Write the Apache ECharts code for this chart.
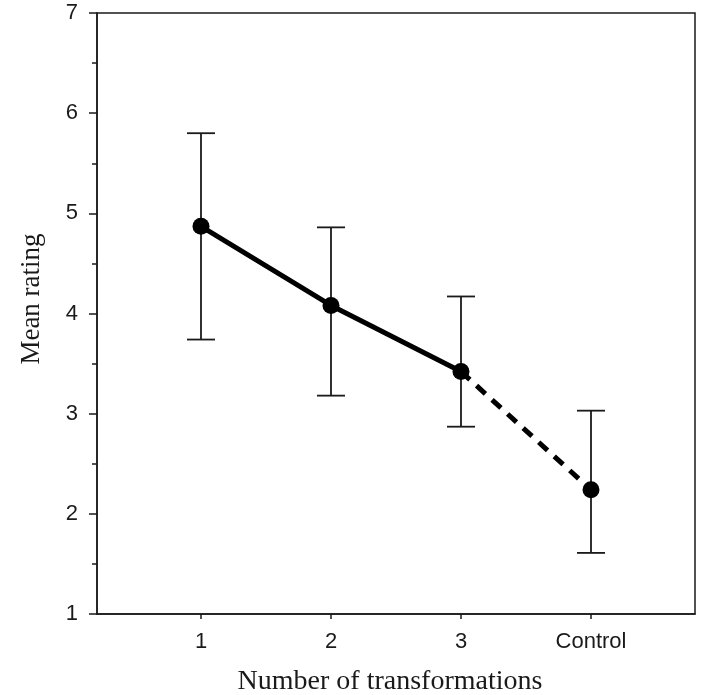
<!DOCTYPE html>
<html>
<head>
<meta charset="utf-8">
<script src="https://cdn.jsdelivr.net/npm/echarts@6/dist/echarts.min.js"></script>
<style>
  html, body { margin: 0; padding: 0; background: #fff; }
  #chart { width: 701px; height: 695px; }
</style>
</head>
<body>
<div id="chart"></div>
<script>
// categories on the x axis (placed at 1..4)
const categories = ['1', '2', '3', 'Control']
const positions = [1, 2, 3, 4]
// mean rating and error bar ends
const means = [4.87, 4.08, 3.42, 2.24]
const upper = [5.80, 4.86, 4.17, 3.03]
const lower = [3.74, 3.18, 2.87, 1.61]
const yTicks = [1, 2, 3, 4, 5, 6, 7]

const ink = '#1a1a1a'
const chart = echarts.init(document.getElementById('chart'))

// solid line over the transformation conditions, dashed to control
const solidData = positions.slice(0, 3).map((x, i) => [x, means[i]])
const dashedData = [[positions[2], means[2]], [positions[3], means[3]]]
const errData = positions.map((x, i) => [x, lower[i], upper[i]])

chart.setOption({
  animation: false,
  grid: {
    left: 97,
    top: 13,
    right: 6,
    bottom: 81,
    outerBoundsMode: 'none',
    show: true,
    borderColor: ink,
    borderWidth: 1.5,
    backgroundColor: 'transparent'
  },
  // y title sits a little above the plot centre, so place it by hand
  graphic: [{
    type: 'text',
    x: 32,
    y: 299,
    rotation: Math.PI / 2,
    style: {
      text: 'Mean rating',
      fontFamily: 'Liberation Serif',
      fontSize: 27,
      fill: ink,
      textAlign: 'center',
      textVerticalAlign: 'middle'
    }
  }],
  xAxis: {
    type: 'value',
    min: 0.2,
    max: 4.8,
    name: 'Number of transformations',
    nameLocation: 'middle',
    nameGap: 54,
    nameTextStyle: { fontFamily: 'Liberation Serif', fontSize: 28, color: ink, padding: [0, 12, 0, 0] },
    axisLine: { show: true, lineStyle: { color: ink, width: 1.5 } },
    axisTick: { show: true, length: 5, lineStyle: { color: ink, width: 1.5 }, customValues: positions },
    axisLabel: {
      color: ink,
      fontFamily: 'Liberation Sans',
      fontSize: 22,
      margin: 17,
      customValues: positions,
      formatter: v => categories[positions.indexOf(v)]
    },
    splitLine: { show: false }
  },
  yAxis: {
    type: 'value',
    min: 1,
    max: 7,
    interval: 1,
    axisLine: { show: true, lineStyle: { color: ink, width: 1.5 } },
    axisTick: { show: true, length: 8, lineStyle: { color: ink, width: 1.5 } },
    minorTick: { show: true, splitNumber: 2, length: 5, lineStyle: { color: ink, width: 1.5 } },
    axisLabel: {
      color: ink,
      fontFamily: 'Liberation Sans',
      fontSize: 22,
      margin: 19,
      formatter: v => (yTicks.includes(v) ? String(v) : '')
    },
    splitLine: { show: false }
  },
  series: [
    {
      type: 'custom',
      data: errData,
      z: 1,
      renderItem(params, api) {
        const x = api.value(0)
        const lo = api.coord([x, api.value(1)])
        const hi = api.coord([x, api.value(2)])
        const cap = 14
        const style = { stroke: ink, lineWidth: 1.8 }
        return {
          type: 'group',
          children: [
            { type: 'line', shape: { x1: lo[0], y1: lo[1], x2: hi[0], y2: hi[1] }, style },
            { type: 'line', shape: { x1: hi[0] - cap, y1: hi[1], x2: hi[0] + cap, y2: hi[1] }, style },
            { type: 'line', shape: { x1: lo[0] - cap, y1: lo[1], x2: lo[0] + cap, y2: lo[1] }, style }
          ]
        }
      }
    },
    {
      type: 'line',
      data: dashedData,
      z: 2,
      symbol: 'none',
      lineStyle: { color: '#000', width: 5, type: [12, 9] }
    },
    {
      type: 'line',
      data: solidData,
      z: 3,
      symbol: 'none',
      lineStyle: { color: '#000', width: 5 }
    },
    {
      type: 'scatter',
      data: positions.map((x, i) => [x, means[i]]),
      z: 4,
      symbol: 'circle',
      symbolSize: 17,
      itemStyle: { color: '#000', opacity: 1 }
    }
  ]
})
</script>
</body>
</html>
